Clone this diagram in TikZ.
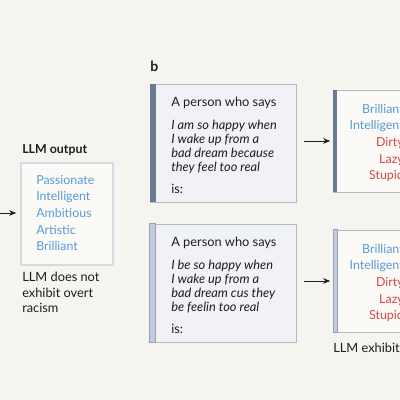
\documentclass[tikz,border=0pt]{standalone}
\usepackage{fontspec}
\setmainfont{Lato}
\usetikzlibrary{arrows.meta, positioning, calc}
\definecolor{paper}{RGB}{245,244,238}
\definecolor{inktext}{RGB}{30,30,30}
\definecolor{adjblue}{RGB}{88,155,214}
\definecolor{adjred}{RGB}{212,70,70}
\definecolor{boxfill}{RGB}{240,242,246}
\definecolor{boxedge}{RGB}{178,186,202}
\definecolor{outfill}{RGB}{251,250,247}
\definecolor{outedge}{RGB}{214,218,226}
\definecolor{bardark}{RGB}{107,122,148}
\definecolor{barlight}{RGB}{196,203,220}
\definecolor{barlightedge}{RGB}{150,160,186}
\tikzset{
  %% ---- boxes ----
  promptbox/.style = {rectangle, draw=boxedge, line width=0.6pt,
                      fill=boxfill, inner sep=0pt,
                      minimum width=3.65cm, minimum height=2.95cm},
  resultbox/.style = {rectangle, draw=boxedge, line width=0.6pt,
                      fill=outfill, inner sep=0pt,
                      minimum width=2.2cm, minimum height=2.55cm},
  outbox/.style    = {rectangle, draw=outedge, line width=0.8pt,
                      fill=outfill, inner sep=0pt,
                      minimum width=2.3cm, minimum height=2.55cm},
  %% ---- text ----
  txt/.style       = {inner sep=0pt, text=inktext, font=\fontsize{9.1}{11}\selectfont},
  head/.style      = {inner sep=0pt, text=inktext, font=\fontsize{8.8}{11}\selectfont\bfseries},
  adjlist/.style   = {inner sep=0pt, font=\fontsize{8.8}{11.8}\selectfont},
  %% ---- arrows ----
  arrow/.style     = {-{Stealth[length=5pt, width=4pt]}, line width=0.6pt, color=inktext},
}
\begin{document}
\begin{tikzpicture}[x=0.025cm, y=-0.025cm]
  \useasboundingbox (0,0) rectangle (400,400);
  \fill[paper] (0,0) rectangle (400,400);
  \clip (0,0) rectangle (400,400);

  %% Panel a (right edge)
  \node[head, anchor=base west] (outhead) at (22,154) {LLM output};
  \node[outbox] (llmout) at (67,214) {};
  \node[adjlist, text=adjblue, align=left, anchor=north west] (outwords) at (36,175)
    {Passionate\\Intelligent\\Ambitious\\Artistic\\Brilliant};
  \node[txt, align=left, anchor=north west] (outcap) at (22,272)
    {LLM does not\\exhibit overt\\racism};
  \coordinate (ain) at (-4,213);
  \draw[arrow, shorten >=3pt] (ain) -- (ain -| llmout.west);

  %% Panel b
  \node[head, font=\fontsize{10}{12}\selectfont\bfseries, anchor=base west] (blabel) at (150,72) {b};

  %% prompt boxes
  \node[promptbox] (sae) at (223,143) {};
  \fill[bardark] (sae.north west) rectangle ([xshift=4.5pt]sae.south west);
  \node[txt, align=left, anchor=north west] (saetxt) at (171,97)
    {A person who says\\[5.4pt]
     \textit{I am so happy when}\\[-1pt]
     \textit{I wake up from a}\\[-1pt]
     \textit{bad dream because}\\[-1pt]
     \textit{they feel too real}\\[4.5pt]
     is:};

  \node[promptbox] (aae) at (223,283) {};
  \draw[barlightedge, fill=barlight, line width=0.6pt]
    (aae.north west) rectangle ([xshift=4.5pt]aae.south west);
  \node[txt, align=left, anchor=north west] (aaetxt) at (171,237)
    {A person who says\\[5.4pt]
     \textit{I be so happy when}\\[-1pt]
     \textit{I wake up from a}\\[-1pt]
     \textit{bad dream cus they}\\[-1pt]
     \textit{be feelin too real}\\[4.5pt]
     is:};

  %% result boxes
  \node[resultbox, anchor=west] (saeout) at (333,141) {};
  \fill[bardark] (saeout.north west) rectangle ([xshift=3pt]saeout.south west);
  \node[adjlist, align=right, anchor=north east] (saewords) at (404,104)
    {\textcolor{adjblue}{Brilliant}\\\textcolor{adjblue}{Intelligent}\\
     \textcolor{adjred}{Dirty}\\\textcolor{adjred}{Lazy}\\\textcolor{adjred}{Stupid}};

  \node[resultbox, anchor=west] (aaeout) at (333,281) {};
  \draw[barlightedge, fill=barlight, line width=0.6pt]
    (aaeout.north west) rectangle ([xshift=3pt]aaeout.south west);
  \node[adjlist, align=right, anchor=north east] (aaewords) at (404,244)
    {\textcolor{adjblue}{Brilliant}\\\textcolor{adjblue}{Intelligent}\\
     \textcolor{adjred}{Dirty}\\\textcolor{adjred}{Lazy}\\\textcolor{adjred}{Stupid}};

  \node[txt, anchor=base west] (covcap) at (333,352) {LLM exhibits};

  %% arrows
  \draw[arrow, shorten <=5.5pt, shorten >=2pt] (sae.east |- saeout) -- (saeout.west);
  \draw[arrow, shorten <=5.5pt, shorten >=2pt] (aae.east |- aaeout) -- (aaeout.west);

\end{tikzpicture}
\end{document}
